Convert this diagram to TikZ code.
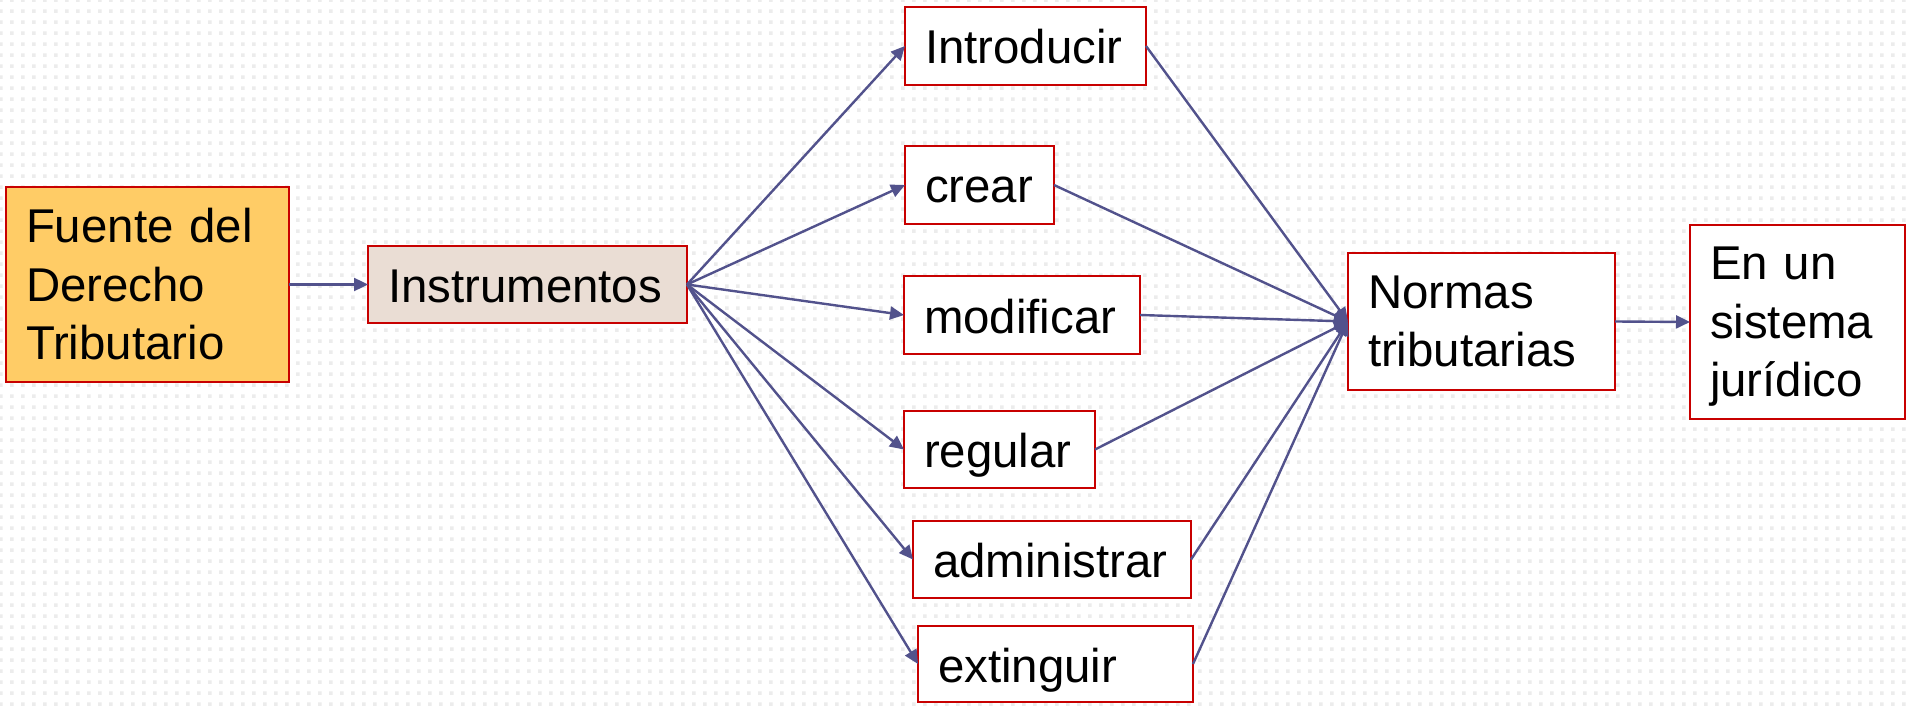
\documentclass[tikz,border=0pt]{standalone}
\usepackage{fontspec}
\setmainfont{Liberation Sans}
\usetikzlibrary{arrows.meta,patterns.meta}
\definecolor{boxred}{RGB}{200,0,0}
\definecolor{linec}{RGB}{82,82,140}
\definecolor{fuentefill}{RGB}{255,204,102}
\definecolor{instrfill}{RGB}{234,221,212}
\definecolor{dotc}{RGB}{236,236,236}
\tikzdeclarepattern{
  name=bgdots,
  type=uncolored,
  bottom left={(0pt,0pt)},
  top right={(5.5pt,5.5pt)},
  tile size={(5.5pt,5.5pt)},
  code={\fill (0pt,0pt) rectangle (2pt,2pt);}
}
\tikzset{
  box/.style={draw=boxred, line width=1pt, fill=white, anchor=north west,
    inner xsep=10pt, inner ysep=0pt, outer sep=0pt, align=left,
    font=\fontsize{23.7pt}{29.25pt}\selectfont},
  oneline/.style={text height=18pt, text depth=0pt},
  conn/.style={draw=linec, line width=1.2pt, -{Triangle[length=7pt,width=6.5pt]}},
}
\begin{document}
\begin{tikzpicture}[x=0.5pt,y=-0.5pt]
\useasboundingbox (0,0) rectangle (1908,706);
\fill[white] (0,0) rectangle (1908,706);
\fill[pattern=bgdots, pattern color=dotc] (0,0) rectangle (1908,706);

\node[box, fill=fuentefill, text width=121.5pt, minimum height=97.5pt] (fuente) at (6,187) {Fuente del\\Derecho\\Tributario};
\node[box, oneline, fill=instrfill, text width=139.5pt, minimum height=38.5pt] (instr) at (368,246) {Instrumentos};
\node[box, oneline, text width=100.5pt, minimum height=39pt] (intro) at (905,7) {Introducir};
\node[box, oneline, text width=54.5pt, minimum height=39pt] (crear) at (905,146) {crear};
\node[box, oneline, text width=98pt, minimum height=39pt] (modif) at (904,276) {modificar};
\node[box, oneline, text width=75.5pt, minimum height=38.5pt] (regul) at (904,411) {regular};
\node[box, oneline, text width=119pt, minimum height=38.5pt] (admin) at (913,521) {administrar};
\node[box, oneline, text width=117.5pt, minimum height=38pt] (extin) at (918,626) {extinguir};
\node[box, text width=113.5pt, minimum height=68.5pt] (normas) at (1348,253) {Normas\\tributarias};
\node[box, text width=87.5pt, minimum height=97pt] (sist) at (1690,225) {En un\\sistema\\\smash{j}urídico};

\draw[conn] (fuente.east) -- (instr.west);
\foreach \n in {intro,crear,modif,regul,admin,extin}{
  \draw[conn] (instr.east) -- (\n.west);
  \draw[conn] (\n.east) -- (normas.west);
}
\draw[conn] (normas.east) -- (sist.west);
\end{tikzpicture}
\end{document}
